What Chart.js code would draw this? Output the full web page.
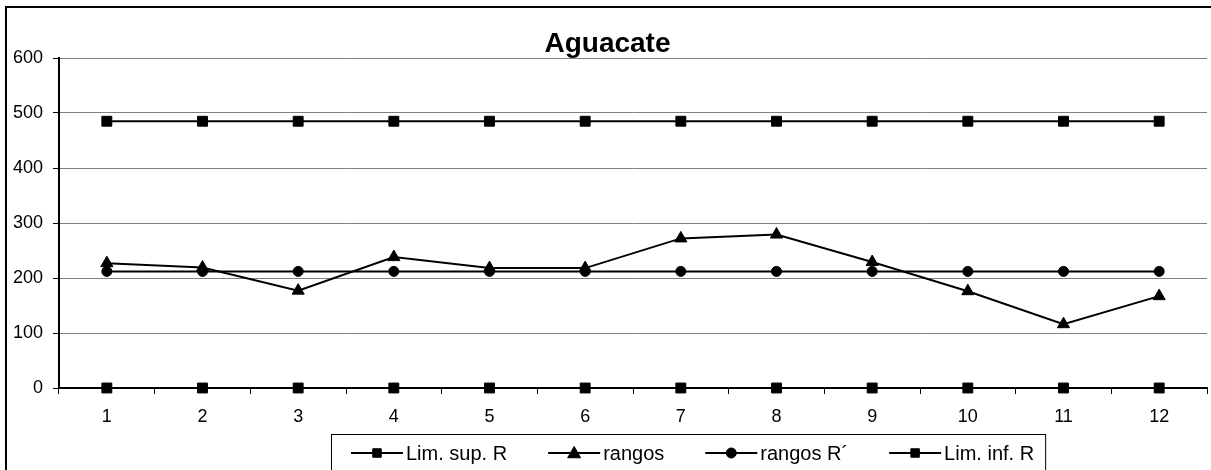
<!DOCTYPE html>
<html>
<head>
<meta charset="utf-8">
<script src="https://cdn.jsdelivr.net/npm/chart.js@4.4.1/dist/chart.umd.min.js"></script>
<style>
  html, body { margin: 0; padding: 0; background: #fff; overflow: hidden; }
  canvas { display: block; }
</style>
</head>
<body>
<canvas id="chart" width="1215" height="476"></canvas>
<script>
const titleText = "Aguacate";
const categories = ["1", "2", "3", "4", "5", "6", "7", "8", "9", "10", "11", "12"];
const limSup = [485, 485, 485, 485, 485, 485, 485, 485, 485, 485, 485, 485];
const rangos = [227, 219, 177, 238, 218, 218, 272, 279, 229, 176, 116, 167];
const rangosR = [212, 212, 212, 212, 212, 212, 212, 212, 212, 212, 212, 212];
const limInf = [0, 0, 0, 0, 0, 0, 0, 0, 0, 0, 0, 0];
const yMin = 0;
const yMax = 600;
const yStep = 100;

const FONT = '"Liberation Sans", Arial, sans-serif';

const makeSeries = (label, data, pointStyle, radius) => ({
  label,
  data,
  pointStyle,
  pointRadius: radius,
  pointHoverRadius: radius,
  pointBorderWidth: 1,
  borderColor: "#000",
  backgroundColor: "#000",
  pointBackgroundColor: "#000",
  pointBorderColor: "#000",
  borderWidth: 2,
  tension: 0,
  fill: false,
  clip: false,
});

// outer frame of the chart object
const framePlugin = {
  id: "frame",
  beforeDraw(chart) {
    const ctx = chart.ctx;
    ctx.save();
    ctx.fillStyle = "#fff";
    ctx.fillRect(0, 0, chart.width, chart.height);
    ctx.strokeStyle = "#000";
    ctx.lineWidth = 2;
    ctx.strokeRect(6, 7, chart.width + 20, chart.height + 20);
    ctx.restore();
  },
};

// excel-style legend: line through marker, boxed
const legendPlugin = {
  id: "xlLegend",
  afterDraw(chart) {
    const ctx = chart.ctx;
    const boxLeft = 331;
    const boxTop = 434;
    const lineY = 453;
    const legendSizes = { rect: 6, triangle: 7.5, circle: 5 };
    ctx.save();
    ctx.font = "20px " + FONT;
    ctx.textBaseline = "alphabetic";
    let x = boxLeft + 20;
    chart.data.datasets.forEach((ds, i) => {
      ctx.strokeStyle = "#000";
      ctx.fillStyle = "#000";
      ctx.lineWidth = 2;
      ctx.beginPath();
      ctx.moveTo(x, lineY);
      ctx.lineTo(x + 52, lineY);
      ctx.stroke();
      ctx.lineWidth = 1;
      Chart.helpers.drawPoint(ctx, {
        pointStyle: ds.pointStyle,
        radius: legendSizes[ds.pointStyle],
        borderWidth: 1,
        rotation: 0,
      }, x + 26, ds.pointStyle === "triangle" ? lineY + 1 : lineY);
      ctx.fillStyle = "#000";
      ctx.fillText(ds.label, x + 55, lineY + 7);
      x += 55 + ctx.measureText(ds.label).width;
      if (i < chart.data.datasets.length - 1) x += 41;
    });
    ctx.strokeStyle = "#000";
    ctx.lineWidth = 1;
    ctx.strokeRect(boxLeft + 0.5, boxTop + 0.5, x + 11 - boxLeft, 100);
    ctx.restore();
  },
};

Chart.defaults.color = "#000";
Chart.defaults.font.family = FONT;

new Chart(document.getElementById("chart"), {
  type: "line",
  data: {
    labels: categories,
    datasets: [
      makeSeries("Lim. sup. R", limSup, "rect", 7),
      makeSeries("rangos", rangos, "triangle", 7),
      makeSeries("rangos R\u00b4", rangosR, "circle", 5),
      makeSeries("Lim. inf. R", limInf, "rect", 7),
    ],
  },
  options: {
    responsive: false,
    devicePixelRatio: 1,
    animation: false,
    layout: { padding: { left: 0, right: 0, top: 0, bottom: 0 } },
    plugins: {
      legend: { display: false },
      tooltip: { enabled: false },
      title: {
        display: true,
        text: titleText,
        color: "#000",
        font: { family: FONT, size: 28, weight: "bold", lineHeight: 1 },
        padding: { top: 30, bottom: 0 },
      },
    },
    scales: {
      x: {
        offset: true,
        afterFit(scale) { scale.height = 88; },
        grid: {
          display: true,
          drawOnChartArea: false,
          offset: true,
          tickLength: 6,
          tickColor: "#000",
        },
        border: { display: true, color: "#000", width: 2 },
        ticks: {
          color: "#000",
          padding: 12,
          maxRotation: 0,
          font: { family: FONT, size: 18 },
        },
      },
      y: {
        min: yMin,
        max: yMax,
        afterFit(scale) { scale.width = 59; },
        grid: {
          color: "#808080",
          lineWidth: 1,
          tickLength: 6,
          tickColor: "#000",
        },
        border: { display: true, color: "#000", width: 2 },
        ticks: {
          stepSize: yStep,
          color: "#000",
          padding: 10,
          font: { family: FONT, size: 18 },
        },
      },
    },
  },
  plugins: [framePlugin, legendPlugin],
});
</script>
</body>
</html>
